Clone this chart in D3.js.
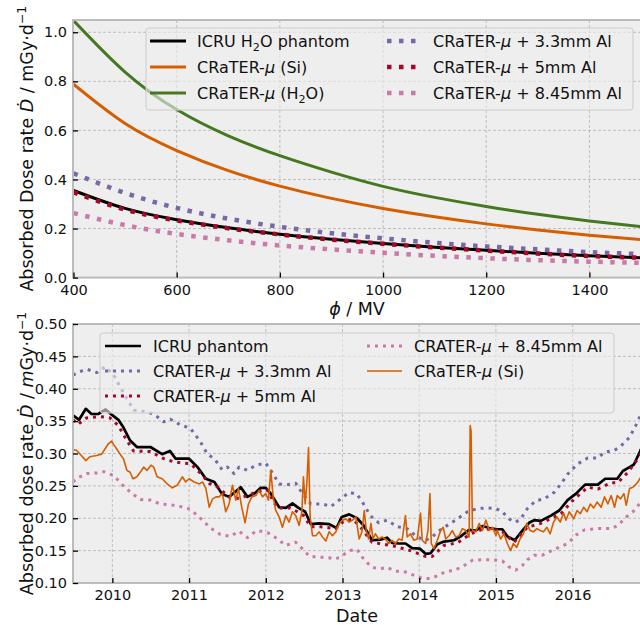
<!DOCTYPE html>
<html>
<head>
<meta charset="utf-8">
<script src="https://cdn.jsdelivr.net/npm/d3@7"></script>
<style>
  body { margin: 0; background: #fff; }
  svg { display: block; font-family: "DejaVu Sans", "Liberation Sans", sans-serif; }
</style>
</head>
<body>
<svg id="fig" width="640" height="625"></svg>
<script>
// ---------- Upper panel: dose rate versus solar modulation potential ----------
const phiMV      = [400, 500, 600, 700, 800, 900, 1000, 1100, 1200, 1300, 1400, 1500];
const icruH2O    = [0.355, 0.282, 0.236, 0.203, 0.177, 0.156, 0.139, 0.124, 0.111, 0.099, 0.089, 0.081];
const craterSi   = [0.788, 0.628, 0.518, 0.436, 0.373, 0.323, 0.282, 0.248, 0.219, 0.194, 0.173, 0.155];
const craterH2O  = [1.048, 0.838, 0.685, 0.578, 0.497, 0.430, 0.372, 0.327, 0.290, 0.258, 0.231, 0.208];
const crater33Al = [0.425, 0.345, 0.284, 0.240, 0.207, 0.181, 0.160, 0.142, 0.127, 0.115, 0.104, 0.096];
const crater50Al = [0.348, 0.277, 0.233, 0.201, 0.176, 0.155, 0.138, 0.123, 0.110, 0.098, 0.088, 0.081];
const crater845Al= [0.263, 0.214, 0.178, 0.152, 0.131, 0.115, 0.101, 0.089, 0.079, 0.071, 0.065, 0.060];
const phiTicks   = [400, 600, 800, 1000, 1200, 1400];
const doseTicksTop = [0.0, 0.2, 0.4, 0.6, 0.8, 1.0];

// ---------- Lower panel: dose rate time series (decimal year, mGy/d) ----------
const icruSeries = [
  [2009.487,0.359],[2009.566,0.352],[2009.654,0.369],[2009.728,0.361],[2009.816,0.361],[2009.912,0.368],
  [2009.991,0.360],[2010.079,0.352],[2010.145,0.340],[2010.232,0.320],[2010.320,0.310],[2010.496,0.310],
  [2010.649,0.299],[2010.750,0.304],[2010.825,0.292],[2011.000,0.292],[2011.110,0.279],[2011.219,0.261],
  [2011.330,0.256],[2011.426,0.238],[2011.522,0.233],[2011.674,0.248],[2011.761,0.233],[2011.861,0.239],
  [2011.935,0.247],[2012.000,0.247],[2012.065,0.238],[2012.174,0.217],[2012.261,0.216],[2012.348,0.223],
  [2012.426,0.216],[2012.513,0.210],[2012.587,0.191],[2012.696,0.192],[2012.826,0.191],[2012.922,0.185],
  [2012.991,0.202],[2013.087,0.206],[2013.190,0.200],[2013.275,0.189],[2013.384,0.166],[2013.493,0.167],
  [2013.581,0.170],[2013.646,0.162],[2013.734,0.161],[2013.821,0.161],[2013.908,0.154],[2014.009,0.153],
  [2014.083,0.145],[2014.148,0.146],[2014.236,0.160],[2014.323,0.164],[2014.454,0.166],[2014.541,0.172],
  [2014.651,0.182],[2014.738,0.181],[2014.825,0.188],[2014.913,0.185],[2015.017,0.183],[2015.083,0.183],
  [2015.148,0.172],[2015.245,0.166],[2015.345,0.181],[2015.432,0.193],[2015.498,0.197],[2015.585,0.196],
  [2015.716,0.204],[2015.825,0.212],[2015.934,0.228],[2016.044,0.238],[2016.162,0.252],[2016.328,0.252],
  [2016.424,0.261],[2016.581,0.261],[2016.655,0.273],[2016.742,0.279],[2016.799,0.283],[2016.873,0.302],
  [2016.891,0.307]
];
const al33Series = [
  [2009.487,0.421],[2009.561,0.426],[2009.670,0.430],[2009.800,0.425],[2009.909,0.434],[2010.017,0.421],
  [2010.148,0.393],[2010.278,0.367],[2010.409,0.365],[2010.539,0.361],[2010.670,0.349],[2010.757,0.353],
  [2010.887,0.344],[2011.017,0.339],[2011.148,0.318],[2011.235,0.300],[2011.343,0.290],[2011.430,0.275],
  [2011.500,0.279],[2011.587,0.269],[2011.652,0.279],[2011.761,0.274],[2011.870,0.282],[2012.000,0.285],
  [2012.065,0.274],[2012.174,0.253],[2012.283,0.252],[2012.391,0.254],[2012.478,0.238],[2012.587,0.222],
  [2012.739,0.222],[2012.848,0.218],[2012.957,0.228],[2013.087,0.240],[2013.190,0.237],[2013.275,0.222],
  [2013.362,0.204],[2013.472,0.193],[2013.581,0.197],[2013.712,0.187],[2013.843,0.184],[2013.974,0.171],
  [2014.083,0.166],[2014.170,0.171],[2014.236,0.179],[2014.367,0.189],[2014.498,0.199],[2014.629,0.210],
  [2014.760,0.215],[2014.891,0.216],[2015.000,0.215],[2015.083,0.210],[2015.170,0.199],[2015.258,0.194],
  [2015.323,0.199],[2015.410,0.215],[2015.520,0.227],[2015.629,0.230],[2015.760,0.240],[2015.847,0.253],
  [2015.934,0.268],[2016.066,0.284],[2016.197,0.293],[2016.328,0.293],[2016.415,0.302],[2016.546,0.305],
  [2016.633,0.312],[2016.742,0.325],[2016.830,0.345],[2016.891,0.361]
];
const al50Series = [
  [2009.487,0.352],[2009.553,0.345],[2009.662,0.355],[2009.838,0.357],[2009.969,0.355],[2010.079,0.343],
  [2010.189,0.320],[2010.276,0.304],[2010.496,0.303],[2010.671,0.292],[2010.803,0.287],[2011.022,0.284],
  [2011.154,0.269],[2011.263,0.254],[2011.373,0.248],[2011.539,0.231],[2011.670,0.231],[2011.887,0.241],
  [2012.017,0.244],[2012.148,0.216],[2012.322,0.216],[2012.496,0.204],[2012.583,0.187],[2012.713,0.187],
  [2012.913,0.184],[2013.000,0.194],[2013.130,0.199],[2013.230,0.187],[2013.384,0.163],[2013.668,0.157],
  [2013.886,0.150],[2014.083,0.141],[2014.170,0.141],[2014.323,0.158],[2014.498,0.162],[2014.672,0.176],
  [2014.847,0.184],[2015.066,0.181],[2015.236,0.163],[2015.410,0.186],[2015.585,0.192],[2015.847,0.207],
  [2016.022,0.230],[2016.197,0.248],[2016.328,0.245],[2016.502,0.255],[2016.590,0.255],[2016.721,0.271],
  [2016.852,0.292],[2016.891,0.300]
];
const al845Series = [
  [2009.487,0.256],[2009.539,0.262],[2009.670,0.269],[2009.800,0.270],[2009.887,0.272],[2010.017,0.266],
  [2010.126,0.252],[2010.257,0.238],[2010.365,0.229],[2010.496,0.228],[2010.626,0.222],[2010.757,0.221],
  [2010.887,0.218],[2011.017,0.214],[2011.148,0.200],[2011.278,0.185],[2011.409,0.175],[2011.540,0.172],
  [2011.650,0.180],[2011.760,0.170],[2011.880,0.181],[2012.020,0.178],[2012.130,0.170],[2012.260,0.158],
  [2012.390,0.163],[2012.500,0.150],[2012.570,0.141],[2012.700,0.140],[2012.830,0.139],[2012.870,0.137],
  [2012.960,0.139],[2013.090,0.150],[2013.190,0.152],[2013.275,0.137],[2013.384,0.124],[2013.493,0.122],
  [2013.581,0.124],[2013.690,0.118],[2013.799,0.118],[2013.908,0.113],[2014.039,0.107],[2014.148,0.107],
  [2014.258,0.112],[2014.345,0.118],[2014.454,0.119],[2014.585,0.127],[2014.694,0.135],[2014.803,0.136],
  [2014.913,0.136],[2015.022,0.135],[2015.083,0.134],[2015.170,0.125],[2015.258,0.120],[2015.345,0.127],
  [2015.410,0.136],[2015.498,0.143],[2015.607,0.143],[2015.694,0.148],[2015.782,0.153],[2015.934,0.161],
  [2016.044,0.174],[2016.153,0.182],[2016.328,0.184],[2016.502,0.184],[2016.590,0.189],[2016.699,0.202],
  [2016.786,0.210],[2016.891,0.225]
];
const siSeries = [
  [2009.487,0.306],[2009.531,0.305],[2009.596,0.297],[2009.654,0.289],[2009.706,0.295],[2009.794,0.297],
  [2009.860,0.299],[2009.904,0.307],[2009.947,0.315],[2009.991,0.319],[2010.022,0.313],[2010.057,0.307],
  [2010.101,0.299],[2010.145,0.292],[2010.189,0.274],[2010.232,0.271],[2010.268,0.261],[2010.320,0.264],
  [2010.364,0.271],[2010.408,0.279],[2010.452,0.274],[2010.504,0.282],[2010.539,0.279],[2010.583,0.264],
  [2010.649,0.261],[2010.715,0.253],[2010.781,0.247],[2010.846,0.251],[2010.912,0.264],[2010.956,0.256],
  [2011.000,0.261],[2011.066,0.256],[2011.132,0.253],[2011.175,0.256],[2011.219,0.246],[2011.263,0.217],
  [2011.307,0.230],[2011.351,0.233],[2011.391,0.233],[2011.435,0.238],[2011.478,0.210],[2011.522,0.222],
  [2011.565,0.251],[2011.609,0.228],[2011.643,0.246],[2011.687,0.217],[2011.730,0.193],[2011.774,0.222],
  [2011.817,0.233],[2011.870,0.235],[2011.913,0.243],[2011.957,0.233],[2012.000,0.238],[2012.035,0.228],
  [2012.065,0.274],[2012.096,0.233],[2012.130,0.212],[2012.174,0.202],[2012.217,0.186],[2012.261,0.204],
  [2012.304,0.194],[2012.348,0.210],[2012.391,0.204],[2012.435,0.189],[2012.470,0.210],[2012.491,0.264],
  [2012.513,0.222],[2012.535,0.253],[2012.557,0.309],[2012.578,0.202],[2012.609,0.173],[2012.652,0.173],
  [2012.696,0.179],[2012.739,0.171],[2012.783,0.165],[2012.826,0.179],[2012.870,0.173],[2012.913,0.179],
  [2012.957,0.192],[2013.000,0.197],[2013.043,0.199],[2013.087,0.194],[2013.130,0.197],[2013.174,0.202],
  [2013.217,0.168],[2013.253,0.179],[2013.284,0.212],[2013.310,0.181],[2013.341,0.168],[2013.371,0.192],
  [2013.397,0.168],[2013.428,0.176],[2013.472,0.168],[2013.515,0.171],[2013.559,0.168],[2013.603,0.161],
  [2013.646,0.166],[2013.690,0.161],[2013.734,0.168],[2013.777,0.166],[2013.821,0.204],[2013.843,0.171],
  [2013.886,0.176],[2013.930,0.166],[2013.974,0.168],[2014.017,0.208],[2014.039,0.166],[2014.083,0.161],
  [2014.114,0.181],[2014.140,0.238],[2014.157,0.161],[2014.192,0.153],[2014.236,0.166],[2014.279,0.181],
  [2014.314,0.186],[2014.345,0.168],[2014.389,0.173],[2014.432,0.181],[2014.476,0.171],[2014.520,0.173],
  [2014.563,0.184],[2014.607,0.181],[2014.651,0.171],[2014.664,0.343],[2014.676,0.335],[2014.694,0.181],
  [2014.738,0.179],[2014.782,0.192],[2014.825,0.181],[2014.869,0.197],[2014.913,0.181],[2014.956,0.186],
  [2015.000,0.173],[2015.017,0.181],[2015.061,0.168],[2015.105,0.176],[2015.148,0.161],[2015.192,0.150],
  [2015.227,0.161],[2015.271,0.155],[2015.314,0.168],[2015.358,0.176],[2015.402,0.192],[2015.445,0.181],
  [2015.489,0.179],[2015.533,0.184],[2015.576,0.181],[2015.620,0.179],[2015.664,0.186],[2015.707,0.176],
  [2015.751,0.194],[2015.795,0.202],[2015.838,0.194],[2015.882,0.208],[2015.913,0.197],[2015.956,0.210],
  [2016.013,0.199],[2016.057,0.212],[2016.100,0.207],[2016.144,0.217],[2016.188,0.210],[2016.231,0.222],
  [2016.275,0.216],[2016.319,0.225],[2016.371,0.217],[2016.415,0.233],[2016.459,0.222],[2016.502,0.235],
  [2016.546,0.217],[2016.581,0.235],[2016.624,0.230],[2016.668,0.238],[2016.699,0.220],[2016.742,0.246],
  [2016.786,0.248],[2016.830,0.253],[2016.860,0.258],[2016.891,0.264]
];
const yearTicks = [2010, 2011, 2012, 2013, 2014, 2015, 2016];
const doseTicksBottom = [0.10, 0.15, 0.20, 0.25, 0.30, 0.35, 0.40, 0.45, 0.50];

// ---------- palette (bmh-like) ----------
const C = { black: "#000000", orange: "#D55E00", green: "#467821",
            purple: "#7A68A6", red: "#A60628", pink: "#CC79A7" };

const svg = d3.select("#fig");

// Write text made of styled pieces (italic, subscript, superscript).
function rich(textSel, parts, size) {
  let shift = 0;
  parts.forEach(p => {
    const ts = textSel.append("tspan").text(p.t);
    const target = p.sub ? size * 0.28 : p.sup ? -size * 0.42 : 0;
    if (target !== shift) { ts.attr("dy", target - shift); shift = target; }
    if (p.sub || p.sup) ts.attr("font-size", size * 0.7);
    if (p.it) ts.attr("font-style", "italic");
  });
  return textSel;
}

function drawPanel(opt) {
  const { box, x, y, xTicks, yTicks, xFmt, yFmt, id } = opt;
  const g = svg.append("g");
  g.append("rect").attr("x", box.l).attr("y", box.t)
    .attr("width", box.r - box.l).attr("height", box.b - box.t).attr("fill", "#eeeeee");
  svg.append("clipPath").attr("id", id).append("rect")
    .attr("x", box.l).attr("y", box.t).attr("width", box.r - box.l).attr("height", box.b - box.t);

  const grid = g.append("g").attr("stroke", "#b2b2b2").attr("stroke-width", 0.8)
    .attr("stroke-dasharray", "3,2");
  xTicks.forEach(v => grid.append("line").attr("x1", x(v)).attr("x2", x(v)).attr("y1", box.t).attr("y2", box.b));
  yTicks.forEach(v => grid.append("line").attr("y1", y(v)).attr("y2", y(v)).attr("x1", box.l).attr("x2", box.r));

  const plot = g.append("g").attr("clip-path", `url(#${id})`);
  const frame = g.append("g");
  return { g, plot, frame, finish() {
    frame.append("rect").attr("x", box.l).attr("y", box.t)
      .attr("width", box.r - box.l).attr("height", box.b - box.t)
      .attr("fill", "none").attr("stroke", "#bcbcbc").attr("stroke-width", 2);
    const ax = frame.append("g").attr("transform", `translate(0,${box.b})`)
      .call(d3.axisBottom(x).tickValues(xTicks).tickFormat(xFmt).tickSizeInner(-5).tickSizeOuter(0).tickPadding(7));
    const ay = frame.append("g").attr("transform", `translate(${box.l},0)`)
      .call(d3.axisLeft(y).tickValues(yTicks).tickFormat(yFmt).tickSizeInner(-5).tickSizeOuter(0).tickPadding(6));
    [ax, ay].forEach(a => {
      a.select(".domain").remove();
      a.selectAll(".tick line").attr("stroke", "#000").attr("stroke-width", 1.3);
      a.selectAll(".tick text").attr("fill", "#111").attr("font-size", 14.5)
        .attr("font-family", '"DejaVu Sans", sans-serif');
    });
  }};
}

function legend(g, spec) {
  const { box, rows, cols } = spec;
  g.append("rect").attr("x", box.l).attr("y", box.t).attr("width", box.r - box.l).attr("height", box.b - box.t)
    .attr("rx", 3).attr("fill", "#eeeeee").attr("fill-opacity", 0.6)
    .attr("stroke", "#cccccc").attr("stroke-width", 1);
  cols.forEach((col, ci) => {
    col.entries.forEach((e, ri) => {
      const yy = rows[ri];
      g.append("line").attr("x1", col.hx).attr("x2", col.hx + col.hl).attr("y1", yy).attr("y2", yy)
        .attr("stroke", e.color).attr("stroke-width", e.w).attr("stroke-dasharray", e.dash || null);
      rich(g.append("text").attr("x", col.tx).attr("y", yy).attr("dy", "0.35em")
        .attr("font-size", 16).attr("fill", "#111"), e.parts, 16);
    });
  });
}

// ---------------- upper panel ----------------
const boxA = { l: 73, t: 20, r: 641, b: 277.6 };
const xA = d3.scaleLinear().domain([400, 1500]).range([73.5, 641]);
const yA = d3.scaleLinear().domain([0, 1.05]).range([boxA.b, boxA.t]);
const A = drawPanel({ box: boxA, x: xA, y: yA, xTicks: phiTicks, yTicks: doseTicksTop,
  xFmt: d3.format("d"), yFmt: d3.format(".1f"), id: "clipA" });

const lineA = d3.line().x(d => xA(d[0])).y(d => yA(d[1])).curve(d3.curveNatural);
const zipA = arr => phiMV.map((p, i) => [p, arr[i]]);
const DOT_A = "4.5,7.5";
const seriesA = [
  { v: icruH2O, color: C.black, w: 3 },
  { v: craterSi, color: C.orange, w: 3 },
  { v: craterH2O, color: C.green, w: 3 },
  { v: crater33Al, color: C.purple, w: 4.5, dash: DOT_A },
  { v: crater50Al, color: C.red, w: 4.5, dash: DOT_A },
  { v: crater845Al, color: C.pink, w: 4.5, dash: DOT_A }
];
seriesA.forEach(s => A.plot.append("path").attr("d", lineA(zipA(s.v))).attr("fill", "none")
  .attr("stroke", s.color).attr("stroke-width", s.w).attr("stroke-dasharray", s.dash || null));
A.finish();

const mu = { t: "μ", it: true };
legend(svg.append("g"), {
  box: { l: 146, t: 28, r: 633, b: 110 }, rows: [41, 67, 93],
  cols: [
    { hx: 150, hl: 36, tx: 197, entries: [
      { color: C.black, w: 3, parts: [{ t: "ICRU H" }, { t: "2", sub: true }, { t: "O phantom" }] },
      { color: C.orange, w: 3, parts: [{ t: "CRaTER-" }, mu, { t: " (Si)" }] },
      { color: C.green, w: 3, parts: [{ t: "CRaTER-" }, mu, { t: " (H" }, { t: "2", sub: true }, { t: "O)" }] }
    ]},
    { hx: 387, hl: 35, tx: 433, entries: [
      { color: C.purple, w: 4.5, dash: DOT_A, parts: [{ t: "CRaTER-" }, mu, { t: " + 3.3mm Al" }] },
      { color: C.red, w: 4.5, dash: DOT_A, parts: [{ t: "CRaTER-" }, mu, { t: " + 5mm Al" }] },
      { color: C.pink, w: 4.5, dash: DOT_A, parts: [{ t: "CRaTER-" }, mu, { t: " + 8.45mm Al" }] }
    ]}
  ]
});

// axis labels, upper panel
rich(svg.append("text").attr("x", (boxA.l + boxA.r) / 2).attr("y", 315).attr("text-anchor", "middle")
  .attr("font-size", 17.5).attr("fill", "#111"), [{ t: "ϕ", it: true }, { t: " / MV" }], 17.5);
rich(svg.append("text").attr("transform", `translate(27,${(boxA.t + boxA.b) / 2}) rotate(-90)`)
  .attr("text-anchor", "middle").attr("dy", "0.35em").attr("font-size", 17.5).attr("fill", "#111"),
  [{ t: "Absorbed Dose rate " }, { t: "Ḋ", it: true }, { t: " / mGy·d" }, { t: "−1", sup: true }], 17.5);

// ---------------- lower panel ----------------
const boxB = { l: 73, t: 324, r: 641, b: 583 };
const xB = d3.scaleLinear().domain([2009.487, 2016.891]).range([boxB.l, boxB.r]);
const yB = d3.scaleLinear().domain([0.10, 0.50]).range([boxB.b, boxB.t]);
const B = drawPanel({ box: boxB, x: xB, y: yB, xTicks: yearTicks, yTicks: doseTicksBottom,
  xFmt: d3.format("d"), yFmt: d3.format(".2f"), id: "clipB" });

const lineB = d3.line().x(d => xB(d[0])).y(d => yB(d[1]));
const DOT_B = "3,5";
const seriesB = [
  { v: icruSeries, color: C.black, w: 2.7 },
  { v: al33Series, color: C.purple, w: 3, dash: DOT_B },
  { v: al50Series, color: C.red, w: 3, dash: DOT_B },
  { v: al845Series, color: C.pink, w: 3, dash: DOT_B },
  { v: siSeries, color: C.orange, w: 1.6 }
];
seriesB.forEach(s => B.plot.append("path").attr("d", lineB(s.v)).attr("fill", "none")
  .attr("stroke", s.color).attr("stroke-width", s.w).attr("stroke-linejoin", "round")
  .attr("stroke-dasharray", s.dash || null));
B.finish();

legend(svg.append("g"), {
  box: { l: 100, t: 333, r: 614, b: 413 }, rows: [346, 371, 396],
  cols: [
    { hx: 105, hl: 36, tx: 153, entries: [
      { color: C.black, w: 2.7, parts: [{ t: "ICRU phantom" }] },
      { color: C.purple, w: 3, dash: DOT_B, parts: [{ t: "CRATER-" }, mu, { t: " + 3.3mm Al" }] },
      { color: C.red, w: 3, dash: DOT_B, parts: [{ t: "CRATER-" }, mu, { t: " + 5mm Al" }] }
    ]},
    { hx: 367, hl: 35, tx: 414, entries: [
      { color: C.pink, w: 3, dash: DOT_B, parts: [{ t: "CRATER-" }, mu, { t: " + 8.45mm Al" }] },
      { color: C.orange, w: 1.6, parts: [{ t: "CRaTER-" }, mu, { t: " (Si)" }] }
    ]}
  ]
});

svg.append("text").attr("x", (boxB.l + boxB.r) / 2).attr("y", 622).attr("text-anchor", "middle")
  .attr("font-size", 17.5).attr("fill", "#111").text("Date");
rich(svg.append("text").attr("transform", `translate(27,${(boxB.t + boxB.b) / 2}) rotate(-90)`)
  .attr("text-anchor", "middle").attr("dy", "0.35em").attr("font-size", 17.5).attr("fill", "#111"),
  [{ t: "Absorbed dose rate " }, { t: "Ḋ", it: true }, { t: " / " }, { t: "m", it: true },
   { t: "Gy·d" }, { t: "−1", sup: true }], 17.5);
</script>
</body>
</html>
